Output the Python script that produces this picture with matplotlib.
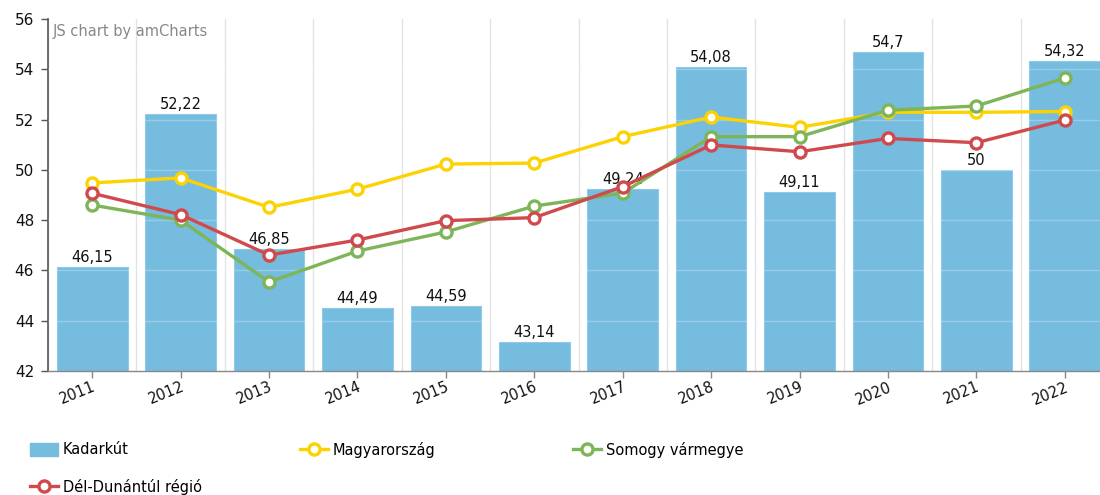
import numpy as np
import matplotlib.pyplot as plt
from matplotlib.patches import Patch
from matplotlib.lines import Line2D

plt.rcParams['font.family'] = ['DejaVu Sans']

# data
years = ['2011', '2012', '2013', '2014', '2015', '2016',
         '2017', '2018', '2019', '2020', '2021', '2022']
kadarkut = [46.15, 52.22, 46.85, 44.49, 44.59, 43.14,
            49.24, 54.08, 49.11, 54.7, 50, 54.32]
magyarorszag = [49.48, 49.68, 48.51, 49.23, 50.23, 50.27,
                51.32, 52.10, 51.69, 52.29, 52.29, 52.32]
somogy = [48.60, 48.00, 45.54, 46.77, 47.53, 48.56,
          49.07, 51.32, 51.32, 52.37, 52.54, 53.65]
del_dunantul = [49.07, 48.22, 46.61, 47.21, 47.98, 48.10,
                49.33, 50.99, 50.72, 51.25, 51.08, 51.98]
y_ticks = [42, 44, 46, 48, 50, 52, 54, 56]

bar_color = '#75bcdf'
yellow = '#fcd202'
green = '#7eb558'
red = '#d04a4d'

fig = plt.figure(figsize=(11, 4.95), dpi=100)
ax = fig.add_axes([48 / 1100, 124 / 495, 1061 / 1100, 352 / 495])

x = np.arange(len(years))

# vertical grid at category boundaries
for b in np.arange(-0.5, len(years), 1.0):
    ax.axvline(b, color='#e3e3e3', lw=1, zorder=0)

ax.bar(x, kadarkut, width=0.8, bottom=0, color=bar_color,
       edgecolor='#8fcbe8', linewidth=0.8, zorder=2)

# faint horizontal grid showing over the bars
for t in y_ticks[1:-1]:
    ax.axhline(t, color='white', lw=1, alpha=0.25, zorder=3)

for xi, v in zip(x, kadarkut):
    ax.text(xi, v + 0.08, f'{v:g}'.replace('.', ','), ha='center', va='bottom',
            fontsize=10.5, color='#111111', zorder=4)

line_kw = dict(lw=2.4, marker='o', markersize=8, markerfacecolor='white',
               markeredgewidth=2.4)
ax.plot(x, magyarorszag, color=yellow, zorder=5, **line_kw)
ax.plot(x, somogy, color=green, zorder=5, **line_kw)
ax.plot(x, del_dunantul, color=red, zorder=5, **line_kw)

ax.set_xlim(-0.5, len(years) - 0.5)
ax.set_ylim(42, 56)
ax.set_yticks(y_ticks)
ax.set_yticklabels([str(t) for t in y_ticks], fontsize=11, color='#111111')
ax.set_xticks(x)
ax.set_xticklabels(years, rotation=22, ha='right', rotation_mode='anchor',
                   fontsize=10.5, color='#111111')
ax.tick_params(axis='y', direction='out', length=5, width=1, color='#555555', pad=5)
ax.tick_params(axis='x', direction='out', length=5, width=1, color='#888888', pad=1)

for s in ['top', 'right']:
    ax.spines[s].set_visible(False)
ax.spines['left'].set_color('#555555')
ax.spines['left'].set_linewidth(1.2)
ax.spines['bottom'].set_color('#888888')
ax.spines['bottom'].set_linewidth(1)

ax.text(0.004, 0.985, 'JS chart by amCharts', transform=ax.transAxes,
        ha='left', va='top', fontsize=10.5, color='#888888')

# legend items placed one by one
handles = [
    Patch(facecolor=bar_color, edgecolor=bar_color),
    Line2D([], [], color=yellow, **line_kw),
    Line2D([], [], color=green, **line_kw),
    Line2D([], [], color=red, **line_kw),
]
labels = ['Kadarkút', 'Magyarország', 'Somogy vármegye', 'Dél-Dunántúl régió']
anchors = [(30 / 1100, 1 - 450 / 495), (300 / 1100, 1 - 450 / 495),
           (573 / 1100, 1 - 450 / 495), (30 / 1100, 1 - 487 / 495)]
for h, lab, anc in zip(handles, labels, anchors):
    fig.legend(handles=[h], labels=[lab], loc='center left', bbox_to_anchor=anc,
               frameon=False, fontsize=10.5, handlelength=1.9, handleheight=0.9,
               handletextpad=0.35, borderaxespad=0, borderpad=0)

fig.savefig('out.png', dpi=100)
